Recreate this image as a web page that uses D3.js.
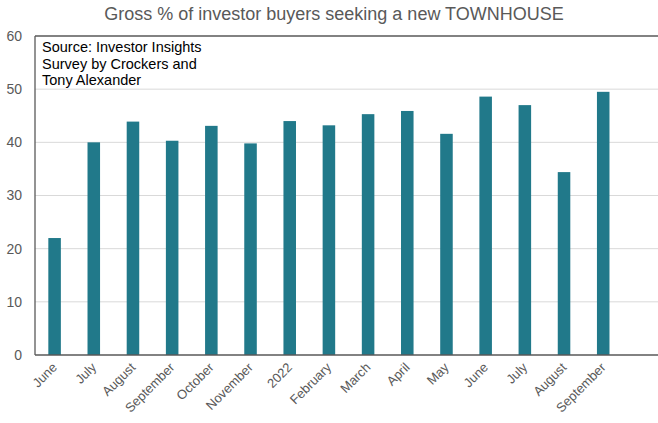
<!DOCTYPE html>
<html>
<head>
<meta charset="utf-8">
<script src="https://cdn.jsdelivr.net/npm/d3@7"></script>
<style>
    body { margin: 0; background: #fff; }
    text { font-family: "Liberation Sans", Arial, sans-serif; }
</style>
</head>
<body>
<div id="chart"></div>
<script>
const months = ["June", "July", "August", "September", "October", "November", "2022",
    "February", "March", "April", "May", "June", "July", "August", "September", ""];
const values = [22, 40, 43.9, 40.3, 43.1, 39.8, 44, 43.2, 45.3, 45.9, 41.6, 48.6, 47, 34.4, 49.5];
const yTicks = [0, 10, 20, 30, 40, 50, 60];
const sourceLines = ["Source: Investor Insights", "Survey by Crockers and", "Tony Alexander"];

const width = 658, height = 423;
const margin = { top: 36, right: -4, bottom: 68, left: 35 };

const svg = d3.select("#chart").append("svg")
    .attr("width", width)
    .attr("height", height);

// keys by index because month names repeat
const xScale = d3.scaleBand()
    .domain(months.map((d, i) => i))
    .range([margin.left, width - margin.right])
    .paddingInner(0.68)
    .paddingOuter(0.34);

const yScale = d3.scaleLinear()
    .domain([0, 60])
    .range([height - margin.bottom, margin.top]);

svg.append("g")
    .selectAll("line")
    .data(yTicks.filter(t => t > 0 && t < 60))
    .enter()
    .append("line")
    .attr("x1", margin.left)
    .attr("x2", width)
    .attr("y1", d => yScale(d))
    .attr("y2", d => yScale(d))
    .attr("stroke", "#d9d9d9")
    .attr("stroke-width", 1);

svg.append("g")
    .selectAll("rect")
    .data(values)
    .enter()
    .append("rect")
    .attr("x", (d, i) => xScale(i))
    .attr("width", xScale.bandwidth())
    .attr("y", d => yScale(d))
    .attr("height", d => yScale(0) - yScale(d))
    .attr("fill", "#21798a");

// frame: top, left, bottom
const frame = svg.append("g").attr("stroke", "#595959").attr("stroke-width", 1.3);
frame.append("line")
    .attr("x1", margin.left).attr("x2", width)
    .attr("y1", yScale(60)).attr("y2", yScale(60));
frame.append("line")
    .attr("x1", margin.left).attr("x2", margin.left)
    .attr("y1", yScale(60)).attr("y2", yScale(0));
frame.append("line")
    .attr("x1", margin.left).attr("x2", width)
    .attr("y1", yScale(0)).attr("y2", yScale(0));

svg.append("g")
    .selectAll("text")
    .data(yTicks)
    .enter()
    .append("text")
    .attr("x", 22)
    .attr("y", d => yScale(d))
    .attr("dy", "0.35em")
    .attr("text-anchor", "end")
    .attr("fill", "#595959")
    .style("font-size", "14px")
    .text(d => d);

svg.append("g")
    .selectAll("text")
    .data(months)
    .enter()
    .append("text")
    .attr("transform", (d, i) =>
        `translate(${xScale(i) + xScale.bandwidth() / 2}, ${yScale(0) + 10}) rotate(-45)`)
    .attr("text-anchor", "end")
    .attr("dy", "0.35em")
    .attr("fill", "#595959")
    .style("font-size", "13px")
    .text(d => d);

svg.append("text")
    .attr("x", 334)
    .attr("y", 20)
    .attr("text-anchor", "middle")
    .attr("fill", "#595959")
    .style("font-size", "18px")
    .text("Gross % of investor buyers seeking a new TOWNHOUSE");

svg.append("g")
    .selectAll("text")
    .data(sourceLines)
    .enter()
    .append("text")
    .attr("x", 42)
    .attr("y", (d, i) => 52 + i * 16.7)
    .attr("fill", "#000")
    .style("font-size", "14.5px")
    .text(d => d);
</script>
</body>
</html>
